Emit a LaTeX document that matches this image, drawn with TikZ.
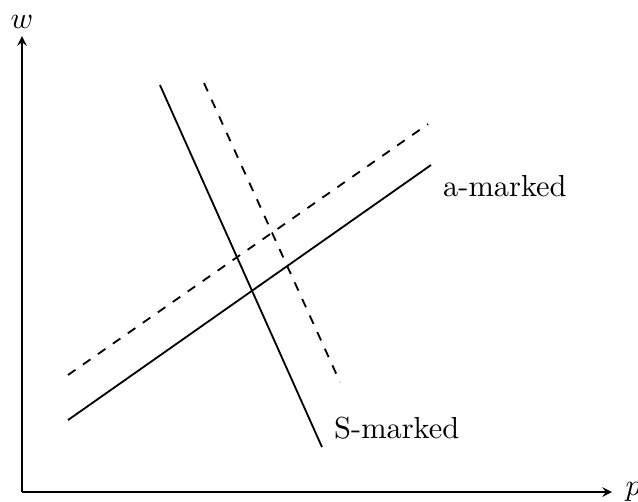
\documentclass[tikz,border=0pt]{standalone}
\usetikzlibrary{arrows}
\usetikzlibrary{positioning}

\begin{document}
\begin{tikzpicture}[>=stealth]\begin{scope}[scale=1]
\useasboundingbox (-0.254,-0.104) rectangle (7.121,5.688);
% axes
\coordinate (O) at (0,0);
\coordinate (P) at (6.82,0);
\coordinate (W) at (0,5.27);
\draw[->] (O) -- (P);
\draw[->] (O) -- (W);
\draw(P) node[right=1pt] (p) {$p$};
\draw(W) node[above=-1pt] (w) {$w$};
% S curves
\coordinate (S1) at (1.595,4.705);
\coordinate (S2) at (3.468,0.520);
\coordinate (S3) at (2.104,4.728);
\coordinate (S4) at (3.676,1.272);
\draw[semithick] (S1) -- (S2);
\draw[semithick,dashed] (S3) -- (S4);
% a curves
\coordinate (A1) at (0.532,0.832);
\coordinate (A2) at (4.728,3.780);
\coordinate (A3) at (0.532,1.353);
\coordinate (A4) at (4.694,4.254);
\draw[semithick] (A1) -- (A2);
\draw[semithick,dashed] (A3) -- (A4);
\draw(A2) node[below right=0pt and 0.5pt] (amarked) {a-marked};
\draw(S2) node[above right=-1pt and 0.5pt] (smarked) {S-marked};
\end{scope}\end{tikzpicture}
\end{document}
